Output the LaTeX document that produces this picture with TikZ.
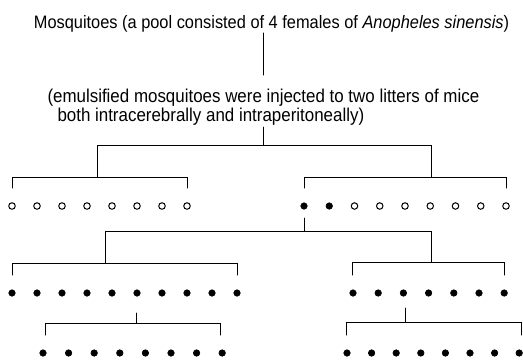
\documentclass[tikz,border=0pt]{standalone}
\usepackage{fontspec}
\setmainfont{Liberation Sans}[FakeStretch=0.91]
\begin{document}
\begin{tikzpicture}[x=1pt,y=-1pt,
  line width=1pt, line cap=round,
  txt/.style={inner sep=0pt, font=\fontsize{18}{15}\selectfont},
  negdot/.style={circle, draw, line width=1pt, minimum size=6.5pt, inner sep=0pt},
  posdot/.style={circle, fill, draw, line width=0.6pt, minimum size=6.5pt, inner sep=0pt},
  bar/.style={line width=1pt}]
\useasboundingbox (0,0) rectangle (523,362);

% source and inoculation
\node[txt, anchor=base] (src) at (271.5,28) {Mosquitoes (a pool consisted of 4 females of \textit{Anopheles sinensis})};
\node[txt, font=\fontsize{18.6}{15}\selectfont, align=left, anchor=north west] (inj) at (47,89)
  {(emulsified mosquitoes were injected to two litters of mice\\\hspace*{10pt}both intracerebrally and intraperitoneally)};
\coordinate (srcB) at (263,33);
\coordinate (srcE) at (263,75);
\draw[bar] (srcB) -- (srcE);

% first passage: two litters
\foreach \i in {0,...,7} \node[negdot] (a\i) at ({12+25*\i},206) {};
\foreach \i in {0,...,8} {
  \ifnum\i<2 \node[posdot] (b\i) at ({304+25.25*\i},206) {};
  \else \node[negdot] (b\i) at ({304+25.25*\i},206) {}; \fi }

% second passage
\foreach \i in {0,...,9} \node[posdot] (c\i) at ({12+25*\i},293) {};
\foreach \i in {0,...,6} \node[posdot] (d\i) at ({353+25.2*\i},293) {};

% third passage
\foreach \i in {0,...,7} \node[posdot] (e\i) at ({43+25.6*\i},353) {};
\foreach \i in {0,...,7} \node[posdot] (f\i) at ({347+24.6*\i},353) {};

% bracket from inoculum to the two litters
\coordinate (j0) at (263,127);
\coordinate (j0L) at (97,145);
\coordinate (j0R) at (431,145);
\coordinate (j1L) at (97,177);
\coordinate (j1R) at (431,177);
\draw[bar] (j0) -- (j0 |- j0L);
\draw[bar] (j1L) -- (j0L) -- (j0R) -- (j1R);

% litter brackets
\draw[bar] (a0.center |- 0,188) -- (a0.center |- j1L) -- (a7.center |- j1L) -- (a7.center |- 0,188);
\draw[bar] (b0.center |- 0,188) -- (b0.center |- j1R) -- (b8.center |- j1R) -- (b8.center |- 0,188);

% bracket from positive litter to second passage
\coordinate (k0) at (304,218);
\coordinate (k0L) at (105,231);
\coordinate (k0R) at (431,231);
\coordinate (k1L) at (105,263);
\coordinate (k1R) at (431,262);
\draw[bar] (k0) -- (k0 |- k0L);
\draw[bar] (k1L) -- (k0L) -- (k0R) -- (k1R);
\draw[bar] (c0.center |- 0,275) -- (c0.center |- k1L) -- (c9.center |- k1L) -- (c9.center |- 0,275);
\draw[bar] (352,275) -- (352,262) -- (d6.center |- k1R) -- (d6.center |- 0,275);

% third passage brackets
\coordinate (m0) at (136,313);
\coordinate (m1) at (136,323);
\draw[bar] (m0) -- (m1);
\draw[bar] (45,335) -- (45,323) -- (220,323) -- (220,335);
\coordinate (n0) at (405,308);
\coordinate (n1) at (405,322);
\draw[bar] (n0) -- (n1);
\draw[bar] (346,335) -- (346,322) -- (521,322) -- (521,335);
\end{tikzpicture}
\end{document}
